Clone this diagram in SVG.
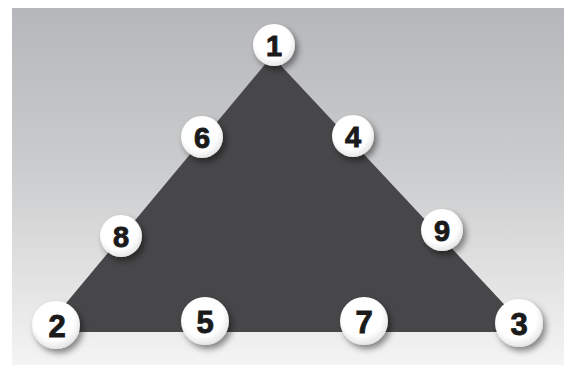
<svg xmlns="http://www.w3.org/2000/svg" width="564" height="367" viewBox="0 0 564 367">
  <defs>
    <linearGradient id="bg" x1="0" y1="0" x2="0" y2="1">
      <stop offset="0" stop-color="#b6b7ba"/>
      <stop offset="0.45" stop-color="#cbcccd"/>
      <stop offset="0.85" stop-color="#e9e9ea"/>
      <stop offset="1" stop-color="#f4f4f4"/>
    </linearGradient>
    <radialGradient id="disc" cx="0.45" cy="0.4" r="0.6">
      <stop offset="0.7" stop-color="#ffffff"/>
      <stop offset="1" stop-color="#e6e6e6"/>
    </radialGradient>
    <filter id="sh" x="-50%" y="-50%" width="200%" height="200%">
      <feDropShadow dx="3" dy="4" stdDeviation="3" flood-color="#000" flood-opacity="0.45"/>
    </filter>
    <filter id="soft" x="-5%" y="-5%" width="110%" height="110%">
      <feGaussianBlur stdDeviation="0.6"/>
    </filter>
  </defs>
  <style>
    .node circle { fill: url(#disc); filter: url(#sh); }
    .node text { font-family: "Liberation Sans", Arial, sans-serif; font-weight: bold; font-size: 29px; fill: #1a1a1a; text-anchor: middle; dominant-baseline: central; stroke: #1a1a1a; stroke-width: 0.9; }
    .node.big text { font-size: 31px; }
  </style>
  <rect x="0" y="0" width="564" height="367" fill="#ffffff"/>
  <rect x="12" y="8" width="552" height="357" fill="url(#bg)"/>
  <g id="connectors">
    <polygon points="272,56 42,332 530,332" fill="#46474a" filter="url(#soft)"/>
  </g>
  <g id="n1" class="node"><circle cx="274" cy="45" r="21"/><text x="274" y="46">1</text></g>
  <g id="n6" class="node"><circle cx="202" cy="137" r="21"/><text x="202" y="138">6</text></g>
  <g id="n4" class="node"><circle cx="353" cy="136" r="21"/><text x="353" y="137">4</text></g>
  <g id="n8" class="node"><circle cx="121" cy="236" r="21"/><text x="121" y="237">8</text></g>
  <g id="n9" class="node"><circle cx="442" cy="230" r="21"/><text x="442" y="231">9</text></g>
  <g id="n2" class="node big"><circle cx="56" cy="325" r="24"/><text x="57" y="326">2</text></g>
  <g id="n5" class="node big"><circle cx="205" cy="321" r="24"/><text x="205" y="322">5</text></g>
  <g id="n7" class="node big"><circle cx="364" cy="321" r="24"/><text x="364" y="322">7</text></g>
  <g id="n3" class="node big"><circle cx="519" cy="323" r="24"/><text x="519" y="324">3</text></g>
</svg>
